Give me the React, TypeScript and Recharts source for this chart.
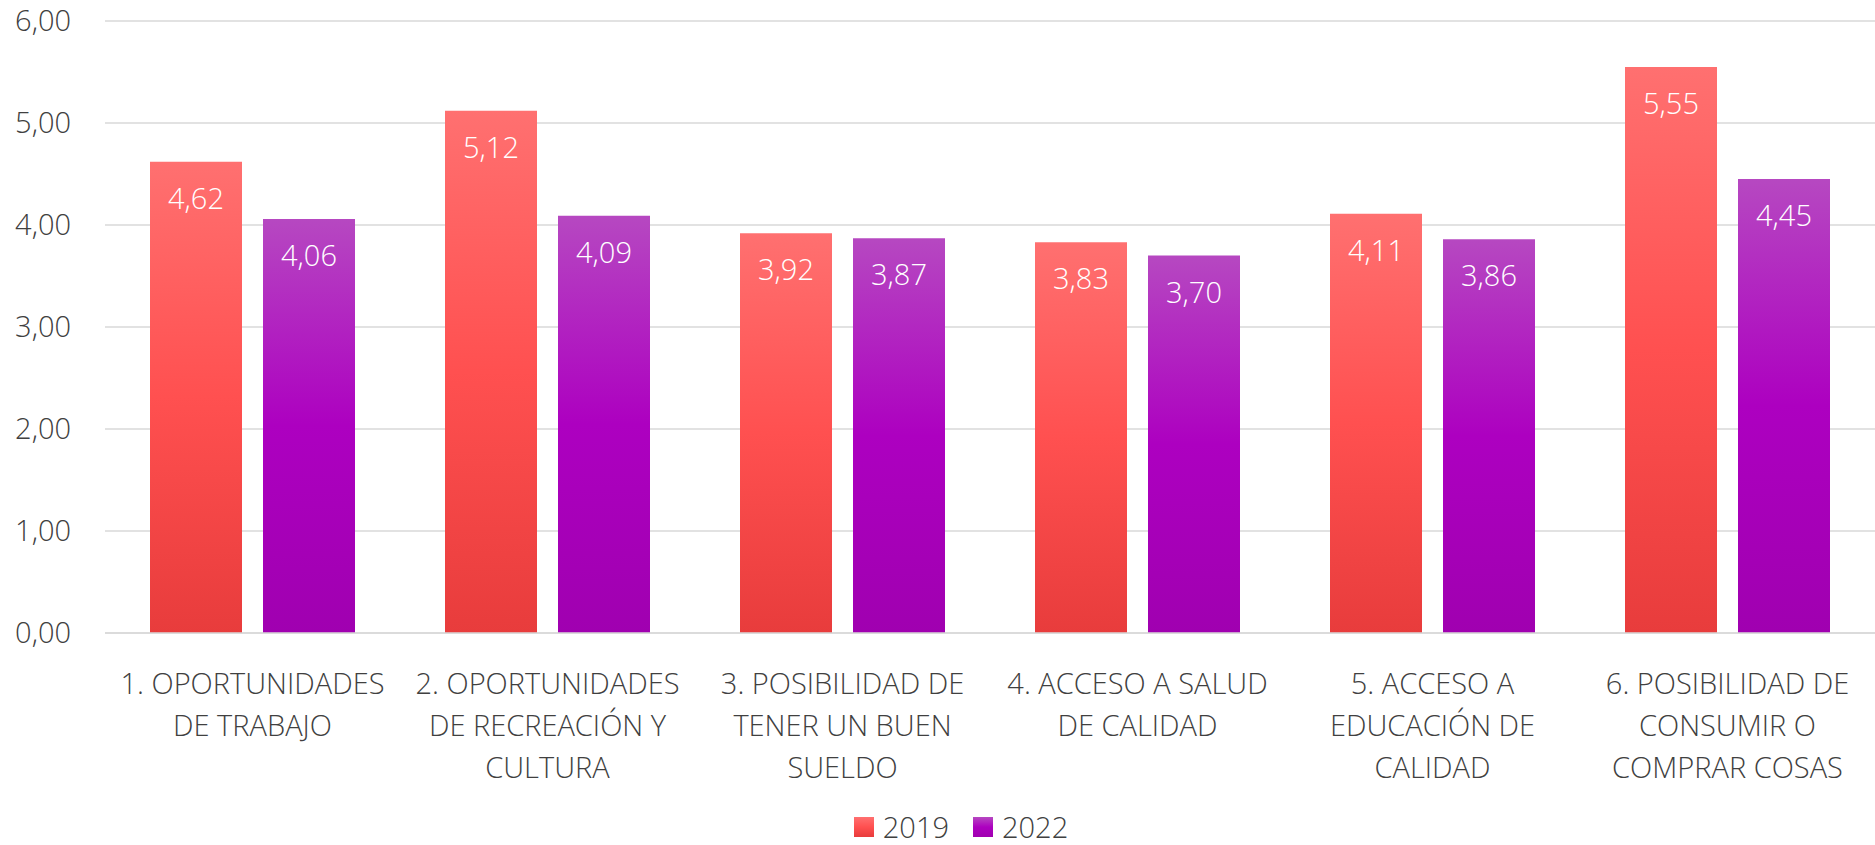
import { Bar, BarChart, CartesianGrid, LabelList, Legend, XAxis, YAxis } from 'recharts';

const categories = [
  '1. OPORTUNIDADES|DE TRABAJO',
  '2. OPORTUNIDADES|DE RECREACIÓN Y|CULTURA',
  '3. POSIBILIDAD DE|TENER UN BUEN|SUELDO',
  '4. ACCESO A SALUD|DE CALIDAD',
  '5. ACCESO A|EDUCACIÓN DE|CALIDAD',
  '6. POSIBILIDAD DE|CONSUMIR O|COMPRAR COSAS',
];
const values2019 = [4.62, 5.12, 3.92, 3.83, 4.11, 5.55];
const values2022 = [4.06, 4.09, 3.87, 3.7, 3.86, 4.45];
const yTicks = [0, 1, 2, 3, 4, 5, 6];

const data = categories.map((name, i) => ({
  name,
  y2019: values2019[i],
  y2022: values2022[i],
}));

const FONT = "'Segoe UI Light', 'Open Sans', Lato, sans-serif";
const TEXT = '#404040';

const fmt = (v: number) => v.toFixed(2).replace('.', ',');

function CategoryTick(props: any) {
  const { x, y, payload } = props;
  const lines = String(payload.value).split('|');
  return (
    <text
      x={x}
      y={y + 61}
      textAnchor="middle"
      fill={TEXT}
      fontSize={29}
      fontFamily={FONT}
      fontWeight={300}
    >
      {lines.map((line, i) => (
        <tspan key={i} x={x} dy={i === 0 ? 0 : 42}>
          {line}
        </tspan>
      ))}
    </text>
  );
}

function ValueLabel(props: any) {
  const { x, y, width, value } = props;
  return (
    <text
      x={x + width / 2}
      y={y + 47}
      textAnchor="middle"
      fill="#ffffff"
      fontSize={29}
      fontFamily={FONT}
      fontWeight={300}
    >
      {fmt(value)}
    </text>
  );
}

function LegendContent() {
  const items = [
    { label: '2019', fill: 'url(#grad2019)' },
    { label: '2022', fill: 'url(#grad2022)' },
  ];
  return (
    <div
      style={{
        display: 'flex',
        justifyContent: 'center',
        paddingLeft: 71,
        paddingTop: 18,
        fontFamily: FONT,
        fontWeight: 300,
        fontSize: 29,
        color: TEXT,
      }}
    >
      {items.map((it) => (
        <div key={it.label} style={{ display: 'flex', alignItems: 'center', marginRight: 24 }}>
          <svg width={20} height={20} style={{ marginRight: 9 }}>
            <rect width={20} height={20} fill={it.fill} />
          </svg>
          <span style={{ display: 'inline-block', height: 28, lineHeight: '28px', overflow: 'visible' }}>
            {it.label}
          </span>
        </div>
      ))}
    </div>
  );
}

export default function App() {
  return (
    <div style={{ position: 'absolute', left: 0, top: 0, background: '#fff' }}>
      <BarChart
        width={1875}
        height={845}
        data={data}
        margin={{ top: 21, right: 0, left: 0, bottom: 0 }}
        barSize={92}
        barGap={21}
      >
        <defs>
          <linearGradient id="grad2019" x1="0" y1="0" x2="0" y2="1">
            <stop offset="0%" stopColor="#FF7070" />
            <stop offset="50%" stopColor="#FF5050" />
            <stop offset="100%" stopColor="#E83C3C" />
          </linearGradient>
          <linearGradient id="grad2022" x1="0" y1="0" x2="0" y2="1">
            <stop offset="0%" stopColor="#B648C1" />
            <stop offset="50%" stopColor="#AD00C0" />
            <stop offset="100%" stopColor="#A000B0" />
          </linearGradient>
        </defs>
        <CartesianGrid vertical={false} stroke="#D9D9D9" strokeWidth={1.5} />
        <XAxis
          dataKey="name"
          axisLine={{ stroke: '#D9D9D9', strokeWidth: 1.5 }}
          tickLine={false}
          tickSize={0}
          tickMargin={0}
          height={162}
          interval={0}
          tick={<CategoryTick />}
        />
        <YAxis
          domain={[0, 6]}
          ticks={yTicks}
          width={105}
          axisLine={false}
          tickLine={false}
          tickSize={0}
          tickMargin={34}
          tickFormatter={fmt}
          tick={{ fill: TEXT, fontSize: 29, fontFamily: FONT, fontWeight: 300 }}
        />
        <Legend verticalAlign="bottom" height={50} content={<LegendContent />} />
        <Bar dataKey="y2019" name="2019" fill="url(#grad2019)" isAnimationActive={false}>
          <LabelList dataKey="y2019" content={<ValueLabel />} />
        </Bar>
        <Bar dataKey="y2022" name="2022" fill="url(#grad2022)" isAnimationActive={false}>
          <LabelList dataKey="y2022" content={<ValueLabel />} />
        </Bar>
      </BarChart>
    </div>
  );
}
